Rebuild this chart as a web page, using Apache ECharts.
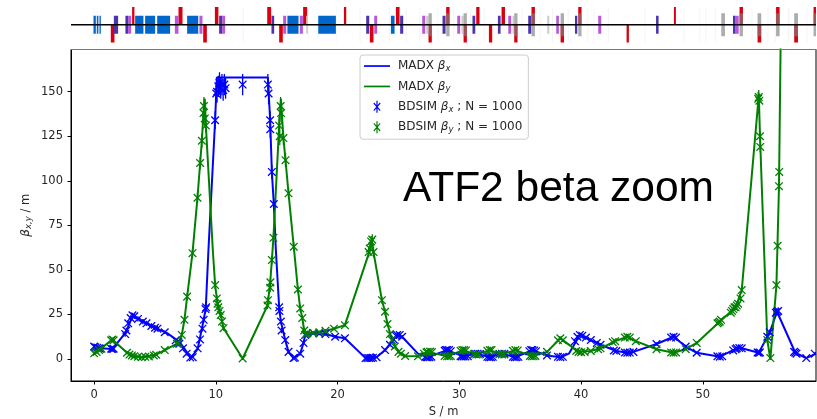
<!DOCTYPE html>
<html>
<head>
<meta charset="utf-8">
<style>html,body{margin:0;background:#fff}#chart{width:817px;height:419px}</style>
<script src="https://cdn.jsdelivr.net/npm/echarts@6/dist/echarts.min.js"></script>
</head>
<body>
<div id="chart"></div>
<script>
// MADX optics
const madxXs = [0,0.5,1.5,2.6,3.2,4,5,6,7,7.5,7.95,8.5,9,9.17,9.39,9.94,10.08,14.27,14.46,14.6,14.76,14.93,15.2,15.34,15.7,15.97,16.38,16.93,17.2,17.34,18,19,19.8,20.6,22.3,22.7,23.2,23.9,24.9,25.3,26.6,27.4,29,30.3,31.4,32.5,33.5,34.6,36,37.2,38.3,39,39.9,40.8,41.6,42.9,43.8,44.3,46.2,47.6,48.6,49.5,51.4,52.8,53.2,54.6,55.3,55.5,56.1,57.6,58.5,59.3];
const madxXb = [7,6,5.6,15,24.7,21,17.6,14.5,9.7,5,0.7,5.5,22,28.4,61,134,158,158,134,105,87,61,29,21,10.6,4,0.5,3,9,13.5,14.5,14,12.5,11.6,0.5,0.5,1,5,13.5,12.5,3,1,5,1.5,3,1,3,1,5,2,1,3,13.5,10.6,8,4.5,3.5,4,8.4,12.5,7,3.5,1.3,6,6,3.5,12.5,15,26.5,3.5,0.5,3];
const madxYs = [0,0.5,1.5,2.7,3.2,3.9,5,5.8,6.93,7.2,7.42,7.64,8.08,8.49,8.71,8.85,8.98,9.09,9.18,9.75,9.94,10.08,10.2,10.4,10.63,12.2,14.24,14.46,14.6,14.73,15.2,15.34,15.55,15.72,15.97,16.4,16.74,16.93,17.1,17.26,17.5,18.5,19.7,20.6,22.6,22.8,22.95,23.64,23.9,24.1,24.46,25,25.55,26.6,27.4,29,30.3,31.4,32.5,33.5,34.6,36,37.2,38.3,39.8,40.8,41.6,42.8,43.8,44.5,46.2,47.6,48.6,49.5,51.4,52.7,53.2,54.6,54.7,55.3,55.55,56.05,56.26,56.5];
const madxYb = [3.2,5.5,11,3.5,1.7,1,2.2,5,9,13.5,22,35,59.4,90.5,110,122.5,138,146,131,61,41.5,34,29,24.7,17.3,0.3,30,42.5,55.5,68,131,146,124,111.6,93,63,39,28.4,23,16,14.5,15,17,19,60,67,60,33,26.5,19.6,10.6,4,1.7,1.5,4,1.5,5,2.5,5,2.5,5,1.5,4,11.6,4,4.5,6,10,12.5,10,5.5,3.5,5.5,9,21,29,38.7,148,125,10.6,0,41.5,97,240];

// BDSIM samples: s, beta, error
const bdsimX = [[0,7,1.5],[0.1,6.6,1.5],[0.25,6.3,1.5],[0.4,6,1.5],[0.5,5.8,1.5],[1.4,5.8,1.5],[1.5,5.6,1.5],[1.6,5.8,1.5],[2.55,14,1.5],[2.65,16,1.5],[2.8,20,1.5],[3,23,1.5],[3.15,24.5,1.5],[3.3,24,1.5],[3.6,22.5,1.5],[4,21,1.5],[4.3,20,1.5],[4.7,18.5,1.5],[5,17.6,1.5],[5.2,17,1.5],[5.8,15,1],[6.7,10.5,1],[6.9,9.5,1],[7,8.5,1],[7.3,6,1],[7.6,3,1],[7.9,0.8,0.5],[8.1,1,0.5],[8.5,6,1],[8.7,11,1],[8.9,17,1.5],[9,22,1.5],[9.15,28,2.5],[9.2,29,2.5],[9.94,134,5],[10.03,149,5],[10.1,150,6],[10.2,153,6],[10.3,155,6],[10.4,152,6],[10.5,154,6],[10.6,151,6],[10.7,154,6],[10.8,152,6],[12.2,154,6],[14.27,154,6],[14.33,149,6],[14.46,134,5],[14.47,129,5],[14.6,105,4],[14.76,87,3.5],[15.2,29,2],[15.22,27,2],[15.34,21,1.5],[15.4,16,1.5],[15.7,10.6,1],[15.97,4,1],[16.38,0.5,0.5],[16.5,0.8,0.5],[16.93,3,1],[17.2,9,1],[17.34,13.5,1.5],[17.5,14.5,1],[18,14.5,1],[18.5,14.3,1],[19,14,1],[19.8,12.5,1],[20.6,11.6,1],[22.3,0.5,0.5],[22.45,0.6,0.5],[22.6,0.5,0.5],[22.75,0.5,0.5],[22.9,0.7,0.5],[23.2,1,0.5],[23.9,5,1],[24.3,8,1],[24.6,11,1],[24.8,13,1.5],[24.9,13.5,1.5],[25.1,13.5,1.5],[25.3,12.5,1],[27.2,1.2,0.7],[27.3,1,0.7],[27.4,1,0.7],[27.55,1,0.7],[27.7,1.3,0.7],[28.8,4.6,0.7],[28.9,5,0.7],[29,5,0.7],[29.15,5,0.7],[29.3,4.4,0.7],[30.1,1.6,0.7],[30.2,1.4,0.7],[30.35,1.4,0.7],[30.5,1.4,0.7],[30.7,1.6,0.7],[31.3,3,0.7],[31.5,3,0.7],[31.7,2.8,0.7],[32.3,1.2,0.7],[32.45,1,0.7],[32.6,1,0.7],[32.75,1.2,0.7],[33.3,2.8,0.7],[33.5,3,0.7],[33.7,3,0.7],[34.4,1.2,0.7],[34.55,1,0.7],[34.7,1,0.7],[34.85,1.2,0.7],[35.75,4.4,0.7],[35.9,5,0.7],[36,5,0.7],[36.15,4.8,0.7],[36.3,4.4,0.7],[37.2,2,0.7],[38.1,1.2,0.7],[38.3,1,0.7],[38.5,1.2,0.7],[39.5,10,1],[39.7,12.5,1],[39.9,13.5,1],[40.1,13,1],[40.4,12,1],[40.8,10.6,1],[41.3,9,1],[41.6,8,1],[42.7,4.8,0.7],[42.9,4.5,0.7],[43.6,3.6,0.7],[43.8,3.5,0.7],[44,3.6,0.7],[44.3,4,0.7],[46.2,8.4,1],[47.4,12,1],[47.6,12.5,1],[47.8,12,1],[48.6,7,1],[49.5,3.5,0.7],[51.2,1.5,0.7],[51.4,1.3,0.7],[51.6,1.5,0.7],[52.5,4.8,0.8],[52.7,5.5,0.8],[52.8,6,0.8],[53,6.2,0.8],[53.2,6,0.8],[54.5,3.7,0.8],[54.6,3.5,0.8],[54.7,3.7,0.8],[55.3,12.5,1.5],[55.5,15,1.5],[56,26,2],[56.1,26.5,2],[56.2,27,2],[57.5,4,1],[57.6,3.5,1],[57.7,3,1],[58.5,0.5,0.5],[59.2,3,0.8]];
const bdsimY = [[0,3.2,1],[0.2,4,1],[0.4,5,1],[0.6,5.8,1],[1.4,10.5,1],[1.5,11,1],[1.6,10.5,1],[2.7,3.5,1],[2.9,2.5,1],[3.1,2,1],[3.3,1.6,1],[3.6,1.2,0.7],[3.9,1,0.7],[4.2,1.2,0.7],[4.5,1.4,0.7],[4.9,2,0.7],[5.1,2.4,0.7],[5.8,5,1],[6.8,8.5,1],[6.93,9,1],[7.2,13.5,1.5],[7.42,22,1.5],[7.64,35,2],[8.08,59.4,2.5],[8.49,90.5,3],[8.71,110,3.5],[8.85,122.5,4],[8.98,138,5],[9.02,142,5],[9.09,135,5],[9.18,131,4],[9.94,41.5,2.5],[10.08,34,2],[10.14,31,2],[10.2,29,2],[10.3,27,2],[10.4,24.7,1.5],[10.5,21,1.5],[10.63,17.3,1.5],[12.2,0.3,0.8],[14.24,30,2],[14.28,33,2],[14.46,40,2.5],[14.48,43,2.5],[14.6,55.5,2.5],[14.73,68,2.5],[15.2,131,5],[15.25,125,5],[15.32,142,5],[15.36,138,5],[15.55,124,4],[15.72,111.6,4],[15.97,93,3],[16.4,63,2.5],[16.74,39,2],[16.93,28.4,2],[17.1,23,1.5],[17.26,16,1.5],[17.4,14,1.5],[17.5,14.5,1.5],[18,14.7,1],[18.5,15,1],[19,15.8,1],[19.7,17,1],[20.6,19,1],[22.55,60,3],[22.65,62,3],[22.75,66,3],[22.85,67,3],[22.95,60,3],[23.64,33,2],[23.9,26.5,2],[24.1,19.6,1.5],[24.3,14,1.5],[24.46,10.6,1],[24.7,7,1],[25,4,1],[25.2,3,1],[25.55,1.7,0.7],[26.6,1.5,0.7],[27.1,3,0.7],[27.3,3.8,0.7],[27.4,4,0.7],[27.6,4.2,0.7],[27.75,3.9,0.7],[28.8,1.7,0.7],[29,1.5,0.7],[29.15,1.5,0.7],[29.3,1.7,0.7],[30.1,4.6,0.7],[30.25,5,0.7],[30.4,5,0.7],[30.55,4.8,0.7],[31.2,2.8,0.7],[31.4,2.5,0.7],[31.6,2.5,0.7],[32.3,4.6,0.7],[32.5,5,0.7],[32.65,5,0.7],[33.3,2.8,0.7],[33.5,2.5,0.7],[33.7,2.5,0.7],[34.4,4.6,0.7],[34.6,5,0.7],[34.8,4.8,0.7],[35.8,1.7,0.7],[35.95,1.5,0.7],[36.1,1.5,0.7],[36.25,1.7,0.7],[37.2,4,0.8],[38.1,10.5,1],[38.3,11.6,1],[38.5,10.5,1],[39.6,4.5,0.8],[39.8,4,0.8],[40,3.8,0.8],[40.3,4,0.8],[40.8,4.5,0.8],[41.4,5.5,0.8],[41.6,6,0.8],[42.6,9.5,0.8],[42.8,10,0.8],[43.6,12,1],[43.8,12.5,1],[44,12,1],[44.5,10,1],[46.2,5.5,0.8],[47.4,3.7,0.8],[47.6,3.5,0.8],[47.8,3.7,0.8],[48.6,5.5,0.8],[49.5,9,1],[51.2,20,1],[51.3,20.5,1],[51.4,21,1],[51.5,22,1],[52.3,26,1.5],[52.4,27,1.5],[52.5,28,1.5],[52.6,29,1.5],[52.7,29,1.5],[52.8,30,1.5],[52.9,31,1.5],[53.1,34,1.5],[53.2,38.7,2],[54.55,146,4],[54.6,147,4],[54.65,145,4],[54.7,125,3],[54.72,119,3],[55.3,10.6,1.5],[55.55,0.5,1],[56.05,41.5,2],[56.15,63.5,2],[56.26,97,2.5],[56.28,105,2.5]];

const tickS = [0,10,20,30,40,50];
const tickBeta = [0,25,50,75,100,125,150];

// lattice strip, element extents along S
const dipoles = [[-0.05,0.14],[0.22,0.35],[0.44,0.55],[3.37,4.05],[4.19,5.01],[5.18,6.24],[7.64,8.55],[15.88,16.79],[18.41,19.86],[24.38,24.68]];
const quadsUp = [[3.12,3.31],[6.93,7.26],[9.92,10.21],[14.22,14.54],[17.17,17.5],[20.52,20.71],[24.79,25.09],[28.92,29.2],[31.39,31.66],[33.47,33.75],[35.93,36.21],[39.77,40.04],[47.63,47.79],[53.02,53.3],[56.02,56.31],[59.1,59.4]];
const quadsDown = [[1.37,1.67],[8.96,9.26],[15.2,15.5],[22.65,22.95],[27.47,27.74],[30.35,30.62],[32.43,32.7],[34.51,34.78],[38.32,38.6],[43.74,43.93],[54.5,54.8],[57.51,57.82]];
const kickers = [[1.62,1.97],[2.57,2.79],[10.27,10.52],[14.57,14.79],[22.35,22.6],[25.14,25.39],[28.62,28.87],[31.08,31.31],[33.17,33.39],[35.66,35.91],[39.5,39.69],[46.16,46.37],[52.48,52.7]];
const sextupoles = [[2.79,3.04],[6.63,6.93],[8.65,8.9],[10.52,10.76],[15.53,15.78],[16.9,17.15],[23.01,23.25],[26.95,27.2],[29.83,30.07],[34.02,34.26],[37.96,38.18],[41.41,41.66],[52.7,52.95]];
const collimators = [[27.47,27.74],[28.92,29.2],[30.35,30.62],[34.51,34.78],[35.93,36.21],[38.32,38.6],[39.77,40.04],[51.52,51.82],[53.02,53.3],[54.5,54.8],[56.02,56.31],[57.51,57.82],[59.1,59.4]];
const paleElements = [[17.42,17.56],[27.28,27.47],[30.18,30.35],[34.37,34.51],[37.22,37.39]];
const faintMarkers = [[-0.1,-0.05],[0.2,0.25],[0.55,0.6],[3.35,3.4],[5,5.05],[6.3,6.35],[7.6,7.65],[8.55,8.6],[9.5,9.55],[12.2,12.3],[14.1,14.15],[15.85,15.9],[17.6,17.65],[18.35,18.4],[19.9,19.95],[21.8,21.9],[24.2,24.3],[25.6,25.7],[26.7,26.8],[28.2,28.3],[29.5,29.6],[30.9,31],[32,32.1],[35.1,35.2],[36.6,36.7],[37.6,37.7],[38.9,39],[40.5,40.6],[41,41.1],[42.2,42.3],[45.2,45.3],[48.4,48.5],[49.7,49.8],[50.2,50.3],[51,51.1],[54,54.1],[55.3,55.4],[55.9,56],[57,57.1],[58.5,58.6]];
const strip = [
  { data: faintMarkers, from: -0.72, to: 0.72, color: 'rgba(0,0,0,0.04)' },
  { data: quadsUp, from: 0, to: 0.72, color: '#d8000f' },
  { data: quadsDown, from: -0.72, to: 0, color: '#d8000f' },
  { data: dipoles, from: -0.36, to: 0.36, color: '#0066cc' },
  { data: kickers, from: -0.36, to: 0.36, color: '#4c33b2' },
  { data: sextupoles, from: -0.36, to: 0.36, color: '#b957d9' },
  { data: paleElements, from: -0.36, to: 0.36, color: '#cccccc' },
  { data: collimators, from: -0.46, to: 0.46, color: 'rgba(128,128,128,0.65)' }
];

const xMin = -1.9, xMax = 59.3;
const blue = '#0000ff', green = '#008000';
const lineIcon = 'path://M0 0L0 0M26 12L26 12M0 5.2H26V6.9H0Z';
const starIcon = 'path://M0 0L0 0M26 12L26 12M12.4 0H13.6V12H12.4ZM9.4 2.6L10.2 1.8L16.6 9.4L15.8 10.2ZM15.8 1.8L16.6 2.6L10.2 10.2L9.4 9.4Z';

function renderElement(from, to, color) {
  return function (params, api) {
    const a = api.coord([api.value(0), to]);
    const b = api.coord([api.value(1), from]);
    return { type: 'rect', shape: { x: a[0], y: a[1], width: b[0] - a[0], height: b[1] - a[1] }, style: { fill: color } };
  };
}

function renderSample(color) {
  return function (params, api) {
    const s = api.value(0), beta = api.value(1), err = api.value(2);
    const c = api.coord([s, beta]);
    const hi = api.coord([s, beta + err]);
    const lo = api.coord([s, beta - err]);
    const style = { stroke: color, lineWidth: 1.3, fill: null };
    const r = 3.8;
    return {
      type: 'group',
      children: [
        { type: 'line', shape: { x1: c[0], y1: hi[1], x2: c[0], y2: lo[1] }, style },
        { type: 'line', shape: { x1: c[0] - r, y1: c[1] - r, x2: c[0] + r, y2: c[1] + r }, style },
        { type: 'line', shape: { x1: c[0] - r, y1: c[1] + r, x2: c[0] + r, y2: c[1] - r }, style }
      ]
    };
  };
}

const labelRich = {
  i: { fontStyle: 'italic', fontFamily: 'DejaVu Sans', fontSize: 12, color: '#262626' },
  s: { fontStyle: 'italic', fontFamily: 'DejaVu Sans', fontSize: 8.5, color: '#262626', padding: [5, 0, 0, 0] }
};

const legendNames = { 'madx-x': 'MADX {i|β}{s|x}', 'madx-y': 'MADX {i|β}{s|y}', 'bdsim-x': 'BDSIM {i|β}{s|x} ; N = 1000', 'bdsim-y': 'BDSIM {i|β}{s|y} ; N = 1000' };

const myChart = echarts.init(document.getElementById('chart'), null, { renderer: 'canvas' });

myChart.setOption({
  animation: false,
  title: {
    text: 'ATF2 beta zoom',
    left: 403,
    top: 168,
    padding: 0,
    textStyle: { fontFamily: 'Liberation Sans', fontSize: 42.5, fontWeight: 'normal', color: '#000' }
  },
  legend: {
    left: 360,
    top: 55,
    orient: 'vertical',
    padding: [5, 6, 5, 4],
    itemWidth: 26,
    itemHeight: 12,
    itemGap: 7.4,
    backgroundColor: '#fff',
    borderColor: '#ccc',
    borderWidth: 1,
    borderRadius: 3,
    data: [
      { name: 'madx-x', icon: lineIcon },
      { name: 'madx-y', icon: lineIcon },
      { name: 'bdsim-x', icon: starIcon },
      { name: 'bdsim-y', icon: starIcon }
    ],
    formatter: name => legendNames[name],
    textStyle: { fontFamily: 'DejaVu Sans', fontSize: 12, color: '#262626', padding: [0, 0, 0, 3], rich: labelRich }
  },
  grid: [
    { left: 71, right: 1, top: 49.5, bottom: 38, show: true, borderColor: '#000', borderWidth: 1, outerBoundsMode: 'none' },
    { left: 71, right: 1, top: 0, height: 49.5, outerBoundsMode: 'none' }
  ],
  xAxis: [
    {
      type: 'value',
      min: xMin,
      max: xMax,
      name: 'S / m',
      nameLocation: 'middle',
      nameGap: 25,
      nameMoveOverlap: false,
      nameTextStyle: { fontFamily: 'DejaVu Sans', fontSize: 11.5, color: '#262626' },
      axisLine: { onZero: false, lineStyle: { color: '#000' } },
      axisTick: { length: 3.5, customValues: tickS, lineStyle: { color: '#000' } },
      axisLabel: { customValues: tickS, margin: 8, fontFamily: 'DejaVu Sans', fontSize: 11.5, color: '#262626' },
      splitLine: { show: false }
    },
    {
      gridIndex: 1,
      type: 'value',
      min: xMin,
      max: xMax,
      z: 5,
      axisLine: { onZero: false, lineStyle: { color: '#777' } },
      axisTick: { show: false },
      axisLabel: { show: false },
      splitLine: { show: false }
    }
  ],
  yAxis: [
    {
      type: 'value',
      min: -12.35,
      max: 173.7,
      name: '{i|β}{s|x,y} / m',
      nameLocation: 'middle',
      nameGap: 38,
      nameMoveOverlap: false,
      nameTextStyle: { fontFamily: 'DejaVu Sans', fontSize: 11.5, color: '#262626', rich: labelRich },
      axisLine: { onZero: false, lineStyle: { color: '#000' } },
      axisTick: { length: 3.5, customValues: tickBeta, lineStyle: { color: '#000' } },
      axisLabel: { customValues: tickBeta, margin: 8, fontFamily: 'DejaVu Sans', fontSize: 11.5, color: '#262626' },
      splitLine: { show: false }
    },
    { gridIndex: 1, type: 'value', min: -1, max: 1, show: false }
  ],
  series: [
    ...strip.map(group => ({
      type: 'custom',
      xAxisIndex: 1,
      yAxisIndex: 1,
      silent: true,
      clip: true,
      data: group.data,
      encode: { x: [0, 1] },
      renderItem: renderElement(group.from, group.to, group.color)
    })),
    {
      type: 'line',
      xAxisIndex: 1,
      yAxisIndex: 1,
      silent: true,
      symbol: 'none',
      data: [[xMin, 0], [xMax, 0]],
      lineStyle: { color: '#000', width: 1.4 },
      z: 3
    },
    {
      name: 'madx-x',
      type: 'line',
      symbol: 'none',
      data: madxXs.map((s, i) => [s, madxXb[i]]),
      itemStyle: { color: blue },
      lineStyle: { color: blue, width: 2 },
      z: 3
    },
    {
      name: 'madx-y',
      type: 'line',
      symbol: 'none',
      data: madxYs.map((s, i) => [s, madxYb[i]]),
      itemStyle: { color: green },
      lineStyle: { color: green, width: 2 },
      z: 3
    },
    {
      name: 'bdsim-x',
      type: 'custom',
      clip: true,
      data: bdsimX,
      encode: { x: 0, y: 1 },
      itemStyle: { color: blue },
      renderItem: renderSample(blue),
      z: 4
    },
    {
      name: 'bdsim-y',
      type: 'custom',
      clip: true,
      data: bdsimY,
      encode: { x: 0, y: 1 },
      itemStyle: { color: green },
      renderItem: renderSample(green),
      z: 4
    }
  ]
});
</script>
</body>
</html>
